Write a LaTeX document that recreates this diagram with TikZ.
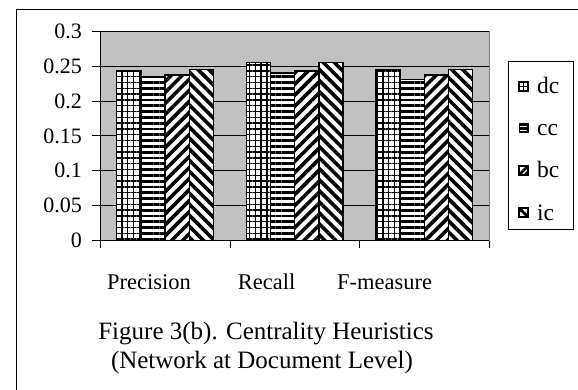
\documentclass[tikz,border=0pt]{standalone}
\usepackage{fontspec}
\setmainfont{Liberation Serif}
\usetikzlibrary{patterns.meta}
\definecolor{plotgrey}{HTML}{C0C0C0}

\tikzset{
  bar/.style={draw=black, line width=1.4pt, preaction={fill=white}},
  dcbar/.style={bar, pattern={Hatch[distance=5.8pt,line width=1.4pt]}},
  ccbar/.style={bar, pattern={Lines[angle=0,distance=5.8pt,line width=2.8pt]}},
  bcbar/.style={bar, pattern={Lines[angle=45,distance=7.8pt,line width=3.6pt]}},
  icbar/.style={bar, pattern={Lines[angle=-45,distance=7.8pt,line width=3.6pt]}},
  swatch/.style={draw=black, fill=white, line width=1.8pt},
  ticklab/.style={anchor=east, inner sep=0pt, font=\fontsize{22}{24}\selectfont},
  catlab/.style={anchor=base, inner sep=0pt, font=\fontsize{22.5}{24}\selectfont},
  leglab/.style={anchor=base west, inner sep=0pt, font=\fontsize{23.5}{24}\selectfont},
  caplab/.style={anchor=base, inner sep=0pt, font=\fontsize{25}{28}\selectfont}
}

\begin{document}
\begin{tikzpicture}[x=1pt, y=-1pt]
  \useasboundingbox (0,0) rectangle (578,390);

  % outer frame
  \draw[line width=0.9pt] (16.5,390) -- (16.5,9) -- (578,9);

  % plot area
  \fill[plotgrey] (100.7,31) rectangle (489.3,240.7);
  \draw[gray, line width=0.8pt] (100.7,31) -- (489.3,31) -- (489.3,240.7);
  \foreach \v in {0.05,0.1,...,0.31}
    \draw[line width=0.7pt] (92,{240.7-\v*699}) -- (489.3,{240.7-\v*699});

  % bars
  \foreach \dc/\cc/\bc/\ic [count=\i from 0] in
      {0.243/0.234/0.237/0.245, 0.255/0.240/0.243/0.255, 0.245/0.231/0.237/0.245}{
    \pgfmathsetmacro{\gx}{116.7+129.55*\i}
    \path[dcbar] (\gx,240.7) rectangle ({\gx+24.2},{240.7-\dc*699});
    \path[ccbar] ({\gx+24.2},240.7) rectangle ({\gx+48.4},{240.7-\cc*699});
    \path[bcbar] ({\gx+48.4},240.7) rectangle ({\gx+72.6},{240.7-\bc*699});
    \path[icbar] ({\gx+72.6},240.7) rectangle ({\gx+96.8},{240.7-\ic*699});
  }

  % axes
  \draw[line width=0.9pt] (100.7,31) -- (100.7,240.7) -- (489.3,240.7);
  \draw[line width=0.7pt] (92,31) -- (100.7,31);
  \draw[line width=0.7pt] (92,240.7) -- (100.7,240.7);
  \foreach \x in {100.7,230.25,359.8,489.3}
    \draw[line width=0.7pt] (\x,240.7) -- (\x,248);

  % tick labels
  \foreach \v/\t [count=\k] in {0/0,0.05/0.05,0.1/0.1,0.15/0.15,0.2/0.2,0.25/0.25,0.3/0.3}
    \node[ticklab] (t\k) at (82,{240.7-\v*699}) {\t};

  % categories
  \node[catlab] (prec) at (149,289.2) {Precision};
  \node[catlab] (rec)  at (266.7,289.2) {Recall};
  \node[catlab] (fm)   at (384.5,289.2) {F-measure};

  % legend
  \node[draw, line width=0.7pt, minimum width=64.4pt, minimum height=168pt,
        inner sep=0pt] (legend) at (540.8,145) {};
  % dc swatch
  \draw[swatch] (519,82) rectangle (528,91);
  \draw[line width=1.4pt] (523.5,82) -- (523.5,91) (519,86.5) -- (528,86.5);
  % cc swatch
  \fill (518.5,123.5) rectangle (528.5,133.5);
  \draw[white, line width=1.2pt] (520,126.8) -- (527,126.8) (520,130.2) -- (527,130.2);
  % bc swatch
  \draw[swatch] (519,166) rectangle (528,175);
  \draw[line width=2.8pt] (519.5,174.5) -- (527.5,166.5);
  \fill (528,175) -- (528,170) -- (523,175) -- cycle;
  % ic swatch
  \draw[swatch] (519,208) rectangle (528,217);
  \draw[line width=2.8pt] (519.5,208.5) -- (527.5,216.5);
  \fill (519,208) -- (524,208) -- (519,213) -- cycle;
  \node[leglab] (ldc) at (537,94) {dc};
  \node[leglab] (lcc) at (537,136) {cc};
  \node[leglab] (lbc) at (537,178) {bc};
  \node[leglab] (lic) at (537,220) {ic};

  % caption
  \node[caplab] (cap1) at (266,339.5) {Figure 3(b). Centrality Heuristics};
  \node[caplab] (cap2) at (262,368) {(Network at Document Level)};
\end{tikzpicture}
\end{document}
